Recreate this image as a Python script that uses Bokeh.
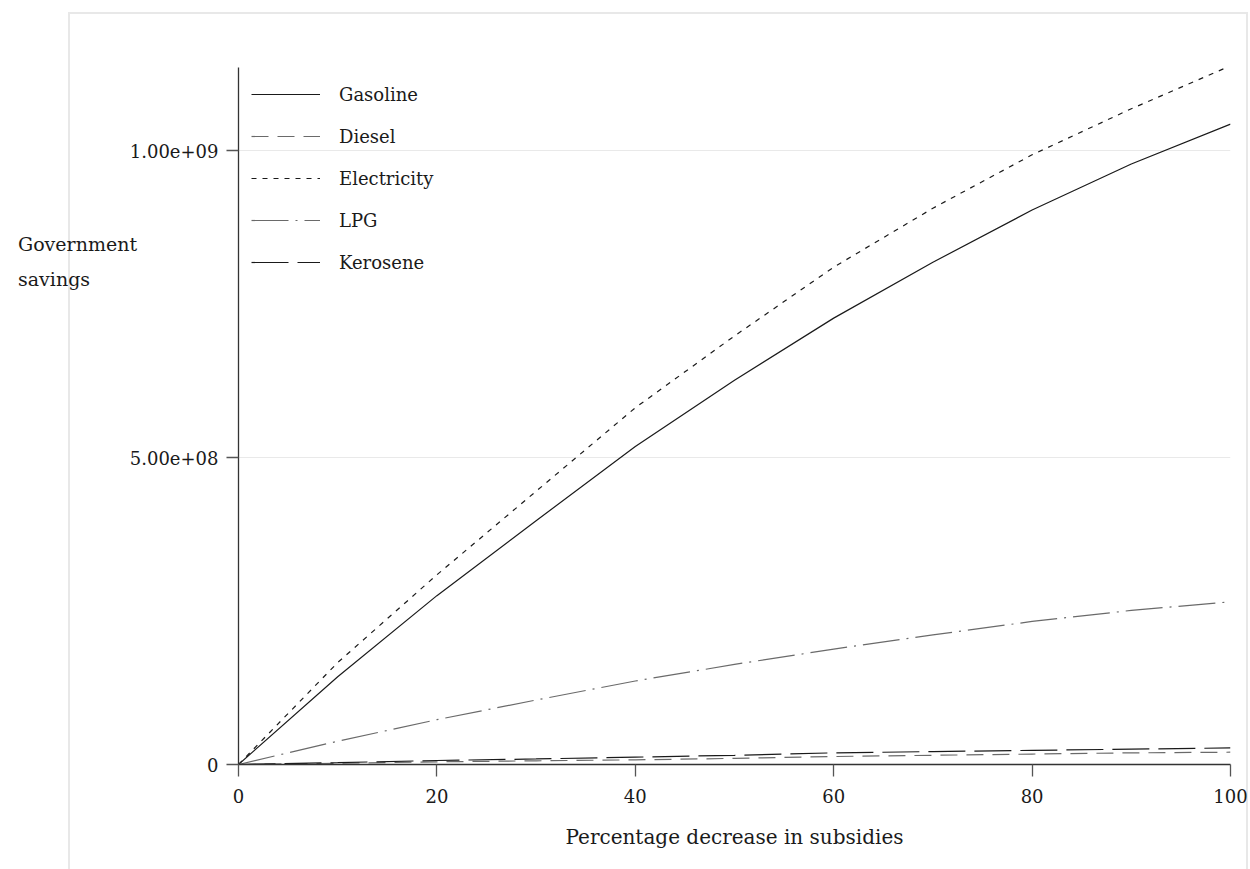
from bokeh.plotting import figure
from bokeh.models import Legend, LegendItem, FixedTicker, Range1d, Div
from bokeh.layouts import row
from bokeh.embed import file_html
from bokeh.resources import INLINE

# ---- data ----
pct = [0, 10, 20, 30, 40, 50, 60, 70, 80, 90, 100]
gasoline = [0, 0.143e9, 0.275e9, 0.397e9, 0.518e9, 0.626e9, 0.727e9, 0.818e9, 0.903e9, 0.978e9, 1.043e9]
diesel = [0, 0.002e9, 0.0044e9, 0.006e9, 0.0076e9, 0.010e9, 0.013e9, 0.015e9, 0.017e9, 0.019e9, 0.020e9]
electricity = [0, 0.166e9, 0.309e9, 0.445e9, 0.581e9, 0.698e9, 0.810e9, 0.906e9, 0.993e9, 1.068e9, 1.138e9]
lpg = [0, 0.038e9, 0.073e9, 0.105e9, 0.136e9, 0.163e9, 0.188e9, 0.211e9, 0.233e9, 0.251e9, 0.265e9]
kerosene = [0, 0.003e9, 0.0065e9, 0.009e9, 0.012e9, 0.015e9, 0.019e9, 0.021e9, 0.023e9, 0.025e9, 0.027e9]

series_names = ["Gasoline", "Diesel", "Electricity", "LPG", "Kerosene"]
y_ticks = [0, 5e8, 1e9]
y_tick_labels = ["0", "5.00e+08", "1.00e+09"]
x_ticks = [0, 20, 40, 60, 80, 100]
x_title = "Percentage decrease in subsidies"
y_title_lines = ["Government", "savings"]

FONT = "DejaVu Serif"
BLACK = "#1a1a1a"
GRAY = "#6a6a6a"

LEFT_COL = 118

p = figure(width=1250 - LEFT_COL, height=869, output_backend="svg", toolbar_location=None,
           x_range=Range1d(0, 100), y_range=Range1d(0, 1.1352e9),
           min_border_left=238 - LEFT_COL, min_border_right=20, min_border_top=67,
           min_border_bottom=105)
p.outline_line_color = None
p.background_fill_color = "white"
p.border_fill_color = None

# grid
p.xgrid.grid_line_color = None
p.ygrid.grid_line_color = "#e9e9e9"
p.ygrid.grid_line_width = 1

# axes
p.xaxis.ticker = FixedTicker(ticks=x_ticks)
p.yaxis.ticker = FixedTicker(ticks=y_ticks)
p.yaxis.major_label_overrides = {float(t): l for t, l in zip(y_ticks, y_tick_labels)}
for ax in (p.xaxis[0], p.yaxis[0]):
    ax.axis_line_color = "#333333"
    ax.axis_line_width = 1.3
    ax.major_tick_line_color = "#555555"
    ax.major_tick_line_width = 1.3
    ax.major_tick_out = 12
    ax.major_tick_in = 0
    ax.minor_tick_line_color = None
    ax.major_label_text_font = FONT
    ax.major_label_text_font_size = "18px"
    ax.major_label_text_color = BLACK
p.xaxis.major_label_standoff = 12
p.yaxis.major_label_standoff = 8
p.yaxis.major_label_orientation = "horizontal"
p.xaxis.axis_label = x_title
p.xaxis.axis_label_text_font = FONT
p.xaxis.axis_label_text_font_size = "20px"
p.xaxis.axis_label_text_font_style = "normal"
p.xaxis.axis_label_text_color = BLACK
p.xaxis.axis_label_standoff = 19

styles = [
    (gasoline, BLACK, "solid"),
    (diesel, GRAY, "17 9"),
    (electricity, BLACK, "5 6"),
    (lpg, GRAY, "37 7 2 7"),
    (kerosene, BLACK, "37 9"),
]
items = []
for name, (vals, col, dash) in zip(series_names, styles):
    r = p.line(pct, vals, line_color=col, line_width=1.2, line_dash=dash)
    items.append(LegendItem(label=name, renderers=[r]))

legend = Legend(items=items, location="top_left", margin=13, padding=0,
                glyph_width=69, glyph_height=28, label_height=28, spacing=14,
                label_standoff=19, label_text_font=FONT, label_text_font_size="18px",
                label_text_color=BLACK, border_line_color=None, background_fill_alpha=0)
p.add_layout(legend, "center")

# y title: horizontal, two lines, to the left of the axis
ytitle = Div(text="<br>".join(y_title_lines), width=LEFT_COL - 18, height=80,
             margin=(227, 0, 0, 18),
             styles={"font-family": FONT, "font-size": "19px", "line-height": "35px",
                     "color": BLACK, "white-space": "nowrap", "overflow": "visible"})

# faint outer frame of the graph region, drawn as the page background
frame_col = "#e8e8e8"
bg = ", ".join([
    f"linear-gradient({frame_col}, {frame_col}) 68px 12px / 1180px 2px no-repeat",
    f"linear-gradient({frame_col}, {frame_col}) 68px 12px / 2px 900px no-repeat",
    f"linear-gradient({frame_col}, {frame_col}) 1246px 12px / 2px 900px no-repeat",
])
layout = row(ytitle, p, spacing=0, styles={"background": bg + ", white"})
open("out.html", "w").write(file_html(layout, INLINE))
